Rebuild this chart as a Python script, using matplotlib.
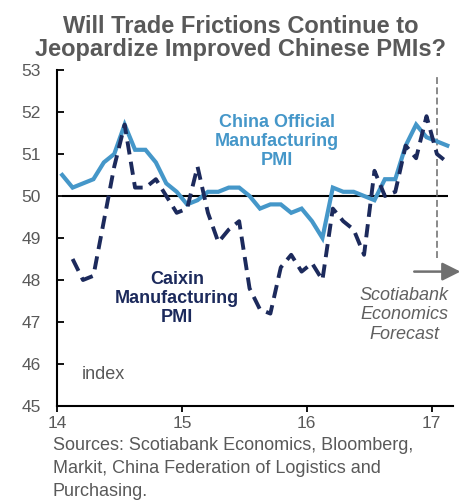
import matplotlib.pyplot as plt

plt.rcParams['font.family'] = ['Liberation Sans', 'DejaVu Sans']

# Data (monthly, Jan 2014 onward)
OFFICIAL_START = 0   # Jan 2014
official = [50.5, 50.2, 50.3, 50.4, 50.8, 51.0, 51.7, 51.1, 51.1, 50.8, 50.3, 50.1,
            49.8, 49.9, 50.1, 50.1, 50.2, 50.2, 50.0, 49.7, 49.8, 49.8, 49.6, 49.7,
            49.4, 49.0, 50.2, 50.1, 50.1, 50.0, 49.9, 50.4, 50.4, 51.2, 51.7, 51.4,
            51.3, 51.2]
CAIXIN_START = 1     # Feb 2014
caixin = [48.5, 48.0, 48.1, 49.4, 50.7, 51.7, 50.2, 50.2, 50.4, 50.0, 49.6,
          49.7, 50.7, 49.6, 48.9, 49.2, 49.4, 47.8, 47.3, 47.2, 48.3, 48.6, 48.2,
          48.4, 48.0, 49.7, 49.4, 49.2, 48.6, 50.6, 50.0, 50.1, 51.2, 50.9, 51.9,
          51.0, 50.8]
FORECAST_MONTH = 36  # Jan 2017
x_ticks = [14, 15, 16, 17]
y_ticks = [45, 46, 47, 48, 49, 50, 51, 52, 53]


def month_to_year(i):
    return 14 + (i + 0.5) / 12


LIGHT = '#4597c9'
NAVY = '#1c2a5c'
GREY = '#595959'

fig = plt.figure(figsize=(4.66, 5.0), dpi=100)
ax = fig.add_axes([0.1223, 0.188, 0.8497, 0.672])

x_off = [month_to_year(OFFICIAL_START + i) for i in range(len(official))]
x_cai = [month_to_year(CAIXIN_START + i) for i in range(len(caixin))]

ax.hlines(50, 14.04, 17.13, color='black', lw=1.5, zorder=1)
ax.plot(x_off, official, color=LIGHT, lw=3.0, zorder=3, solid_joinstyle='miter')
ax.plot(x_cai, caixin, color=NAVY, lw=2.8, linestyle=(0, (3.4, 1.9)),
        zorder=4, dash_capstyle='butt')

# forecast marker
xf = month_to_year(FORECAST_MONTH)
ax.vlines(xf, 48.52, 52.85, color='#6a6a6a', lw=1.1, linestyles=(0, (4.5, 2.2)), zorder=2)
ax.annotate('', xy=(17.23, 48.2), xytext=(16.86, 48.2),
            arrowprops=dict(arrowstyle='-|>,head_length=1.1,head_width=0.55',
                            color='#707070', lw=1.8, shrinkA=0, shrinkB=0),
            annotation_clip=False)

ax.text(15.76, 51.29, 'China Official\nManufacturing\nPMI', color=LIGHT,
        fontsize=13, fontweight='bold', ha='center', va='center', linespacing=1.15)
ax.text(14.96, 47.57, 'Caixin\nManufacturing\nPMI', color=NAVY,
        fontsize=13, fontweight='bold', ha='center', va='center', linespacing=1.15)
ax.text(16.78, 47.17, 'Scotiabank\nEconomics\nForecast', color='#606060',
        fontsize=13, fontstyle='italic', ha='center', va='center', linespacing=1.17)
ax.text(14.2, 45.74, 'index', color=GREY, fontsize=13, va='center')

ax.set_xlim(14, 17.17)
ax.set_ylim(45, 53)
ax.set_xticks(x_ticks)
ax.set_xticklabels([str(t) for t in x_ticks])
ax.set_yticks(y_ticks)
for s in ['top', 'right']:
    ax.spines[s].set_visible(False)
for s in ['left', 'bottom']:
    ax.spines[s].set_linewidth(1.5)
ax.tick_params(axis='y', direction='in', length=5, width=1.3, labelsize=12.5,
               labelcolor=GREY, pad=11.5)
ax.tick_params(axis='x', direction='out', length=4, width=1.3, labelsize=12.5,
               labelcolor=GREY, pad=3)

fig.text(0.517, 1 - 33 / 500, 'Will Trade Frictions Continue to',
         ha='center', va='baseline', fontsize=17, fontweight='bold', color=GREY)
fig.text(0.517, 1 - 56 / 500, 'Jeopardize Improved Chinese PMIs?',
         ha='center', va='baseline', fontsize=17, fontweight='bold', color=GREY)

source_lines = ['Sources: Scotiabank Economics, Bloomberg,',
                'Markit, China Federation of Logistics and',
                'Purchasing.']
for k, line in enumerate(source_lines):
    fig.text(0.113, 1 - (450 + 23 * k) / 500, line, ha='left', va='baseline',
             fontsize=13, color=GREY)

fig.savefig('out.png', dpi=100)
